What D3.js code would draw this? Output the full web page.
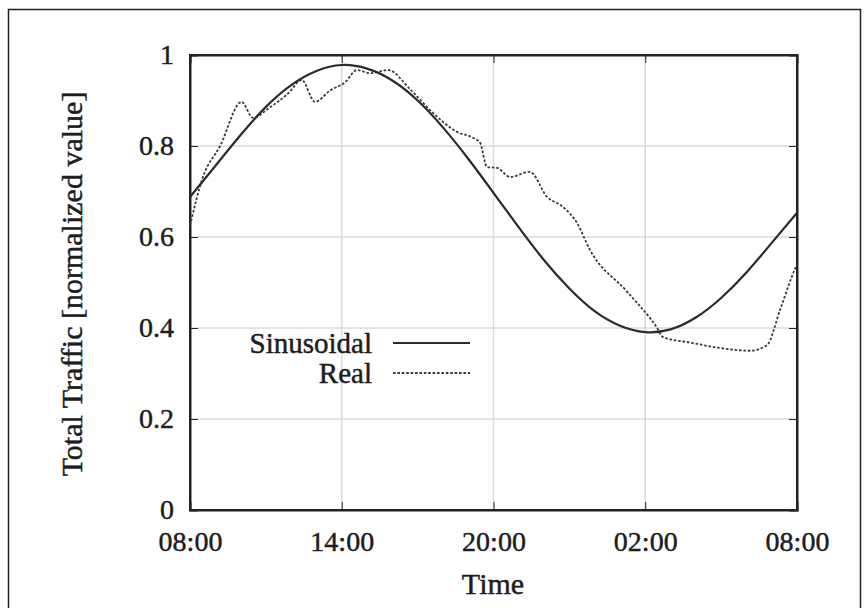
<!DOCTYPE html>
<html lang="en">
<head>
<meta charset="utf-8">
<script src="https://d3js.org/d3.v7.min.js"></script>
<style>
  body { margin: 0; background: #fff; }
  svg { font-family: 'Liberation Serif', 'Times New Roman', serif; }
  svg text { fill: #1c1c22; stroke: #1c1c22; stroke-width: 0.45px; }
  .grid line { stroke: #dadada; stroke-width: 1.5px; }
  .axis text { font-family: 'Liberation Serif', 'Times New Roman', serif; font-size: 28px; }
  .axis path, .axis line { stroke: #222; }
  .sin { fill: none; stroke: #2a2a2a; stroke-width: 2.2px; }
  .real { fill: none; stroke: #3a3a3a; stroke-width: 1.8px; stroke-dasharray: 2.6,1.8; }
  .legend text { font-size: 29px; }
</style>
</head>
<body>
<svg width="868" height="608"></svg>
<script>
// hours since 08:00
var tickHours = [0, 6, 12, 18, 24];
var tickLabels = ["08:00", "14:00", "20:00", "02:00", "08:00"];
var yTicks = [0, 0.2, 0.4, 0.6, 0.8, 1];

var sinHours = [0,1,2,3,4,5,6,7,8,9,10,11,12,13,14,15,16,17,18,19,20,21,22,23,24];
var sinValues = [0.688,0.756,0.824,0.886,0.934,0.965,0.978,0.970,0.944,0.900,0.841,0.772,
                 0.697,0.621,0.549,0.487,0.437,0.405,0.391,0.397,0.423,0.466,0.522,0.587,0.653];

var realHours = [0,0.5,1.19,2.04,2.49,3.16,3.87,4.42,4.94,5.54,6.13,6.6,7.12,7.83,8.7,9.49,
                 10.56,11.19,11.47,11.74,12.14,12.65,13.44,14.12,14.75,15.3,15.82,17.28,
                 18.47,18.7,19.77,20.96,22.14,22.81,23.33,23.92,24];
var realValues = [0.625,0.73,0.80,0.897,0.862,0.885,0.915,0.945,0.897,0.922,0.94,0.967,0.96,
                  0.967,0.925,0.879,0.831,0.818,0.807,0.754,0.752,0.732,0.743,0.688,0.666,
                  0.631,0.571,0.48,0.40,0.38,0.368,0.356,0.350,0.362,0.44,0.53,0.54];

var svg = d3.select("svg");
var margin = {left: 190, top: 55, right: 71, bottom: 98};
var width = 868 - margin.left - margin.right,
    height = 608 - margin.top - margin.bottom;

// outer frame
svg.append("rect")
    .attr("x", 8.5).attr("y", 9.5)
    .attr("width", 852).attr("height", 640)
    .attr("fill", "none").attr("stroke", "#222").attr("stroke-width", 1.5);

var g = svg.append("g").attr("transform", "translate(" + margin.left + "," + margin.top + ")");

var x = d3.scaleLinear().domain([0, 24]).range([0, width]);
var y = d3.scaleLinear().domain([0, 1]).range([height, 0]);

// grid
var grid = g.append("g").attr("class", "grid");
grid.selectAll("line.h").data(yTicks.slice(1, -1)).enter().append("line")
    .attr("class", "h")
    .attr("x1", 0).attr("x2", width)
    .attr("y1", d => y(d)).attr("y2", d => y(d));
grid.selectAll("line.v").data(tickHours.slice(1, -1)).enter().append("line")
    .attr("class", "v")
    .attr("y1", 0).attr("y2", height)
    .attr("x1", d => x(d)).attr("x2", d => x(d));

// axes
g.append("g").attr("class", "axis")
    .attr("transform", "translate(0," + height + ")")
    .call(d3.axisBottom(x).tickValues(tickHours).tickSize(-8).tickPadding(21)
      .tickFormat((d, i) => tickLabels[i]));
g.append("g").attr("class", "axis")
    .call(d3.axisLeft(y).tickValues(yTicks).tickSize(-8).tickPadding(16)
      .tickFormat(d3.format("~g")));
g.append("g").attr("class", "axis")
    .attr("transform", "translate(" + width + ",0)")
    .call(d3.axisRight(y).tickValues(yTicks).tickSize(-8).tickFormat(""));
g.append("g").attr("class", "axis")
    .call(d3.axisTop(x).tickValues(tickHours).tickSize(-8).tickFormat(""));
g.selectAll(".axis").attr("font-family", null).attr("font-size", null);
g.selectAll(".axis path").attr("stroke-width", 2);

// frame on top
g.append("rect").attr("width", width).attr("height", height)
    .attr("fill", "none").attr("stroke", "#222").attr("stroke-width", 2);

// series
var sinData = sinHours.map((h, i) => [h, sinValues[i]]);
var realData = realHours.map((h, i) => [h, realValues[i]]);

var line = d3.line().x(d => x(d[0])).y(d => y(d[1]));

g.append("path").datum(realData).attr("class", "real")
    .attr("d", line.curve(d3.curveMonotoneX));
g.append("path").datum(sinData).attr("class", "sin")
    .attr("d", line.curve(d3.curveNatural));

// legend
var legend = g.append("g").attr("class", "legend");
var items = [{name: "Sinusoidal", cls: "sin"}, {name: "Real", cls: "real"}];
items.forEach((it, i) => {
  var ly = 288 + i * 30;
  legend.append("text").attr("x", 182).attr("y", ly).attr("dy", "0.35em")
      .attr("text-anchor", "end").text(it.name);
  legend.append("line").attr("class", it.cls)
      .attr("x1", 203).attr("x2", 280).attr("y1", ly).attr("y2", ly);
});

// axis titles
svg.append("text").attr("x", 493).attr("y", 594)
    .attr("text-anchor", "middle").attr("font-size", 30)
    .text("Time");
svg.append("text")
    .attr("transform", "translate(82,284) rotate(-90)")
    .attr("text-anchor", "middle").attr("font-size", 30)
    .text("Total Traffic [normalized value]");
</script>
</body>
</html>
